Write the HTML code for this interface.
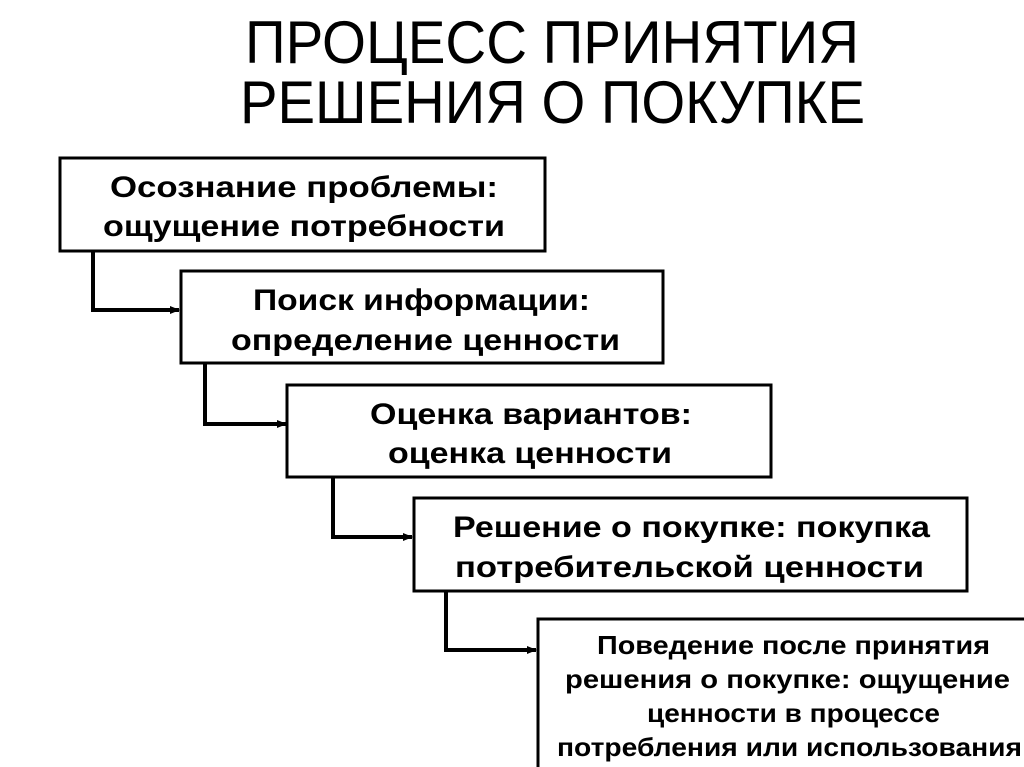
<!DOCTYPE html>
<html><head><meta charset="utf-8"><style>
html,body{margin:0;padding:0;background:#fff;width:1024px;height:767px;overflow:hidden}
svg{display:block}
text{font-family:"Liberation Sans","Noto Sans CJK SC",sans-serif;fill:#000}
.b{font-weight:bold;font-size:30px}
.s{font-weight:bold;font-size:26px}
</style></head><body>
<svg width="1024" height="767" viewBox="0 0 1024 767">
<defs><marker id="a" markerWidth="10" markerHeight="10" refX="9" refY="5" orient="auto" markerUnits="userSpaceOnUse"><path d="M0,1 L10,5 L0,9 Z" fill="#000"/></marker></defs>
<text x="245" y="63" font-size="60" textLength="614" lengthAdjust="spacingAndGlyphs">ПРОЦЕСС ПРИНЯТИЯ</text>
<text x="240" y="123" font-size="60" textLength="625" lengthAdjust="spacingAndGlyphs">РЕШЕНИЯ О ПОКУПКЕ</text>
<g fill="#fff" stroke="#000" stroke-width="3">
<rect x="60" y="158" width="485" height="93"/>
<rect x="181" y="271" width="482" height="92"/>
<rect x="287" y="385" width="484" height="92"/>
<rect x="414" y="498" width="553" height="93"/>
<rect x="538" y="619" width="500" height="160"/>
</g>
<g fill="none" stroke="#000" stroke-width="4" marker-end="url(#a)">
<path d="M93,252 V310 H179"/>
<path d="M205,364 V424 H286"/>
<path d="M333,478 V537 H412"/>
<path d="M446,592 V650 H536"/>
</g>
<text class="b" x="110" y="197" textLength="388" lengthAdjust="spacingAndGlyphs">Осознание проблемы:</text>
<text class="b" x="103" y="236" textLength="402" lengthAdjust="spacingAndGlyphs">ощущение потребности</text>
<text class="b" x="253" y="310" textLength="337" lengthAdjust="spacingAndGlyphs">Поиск информации:</text>
<text class="b" x="231" y="350" textLength="389" lengthAdjust="spacingAndGlyphs">определение ценности</text>
<text class="b" x="370" y="424" textLength="322" lengthAdjust="spacingAndGlyphs">Оценка вариантов:</text>
<text class="b" x="388" y="463" textLength="284" lengthAdjust="spacingAndGlyphs">оценка ценности</text>
<text class="b" x="453" y="537" textLength="477" lengthAdjust="spacingAndGlyphs">Решение о покупке: покупка</text>
<text class="b" x="455" y="577" textLength="469" lengthAdjust="spacingAndGlyphs">потребительской ценности</text>
<text class="s" x="597" y="654" textLength="393" lengthAdjust="spacingAndGlyphs">Поведение после принятия</text>
<text class="s" x="565" y="688" textLength="445" lengthAdjust="spacingAndGlyphs">решения о покупке: ощущение</text>
<text class="s" x="647" y="722" textLength="293" lengthAdjust="spacingAndGlyphs">ценности в процессе</text>
<text class="s" x="557" y="756" textLength="465" lengthAdjust="spacingAndGlyphs">потребления или использования</text>
</svg>
</body></html>
